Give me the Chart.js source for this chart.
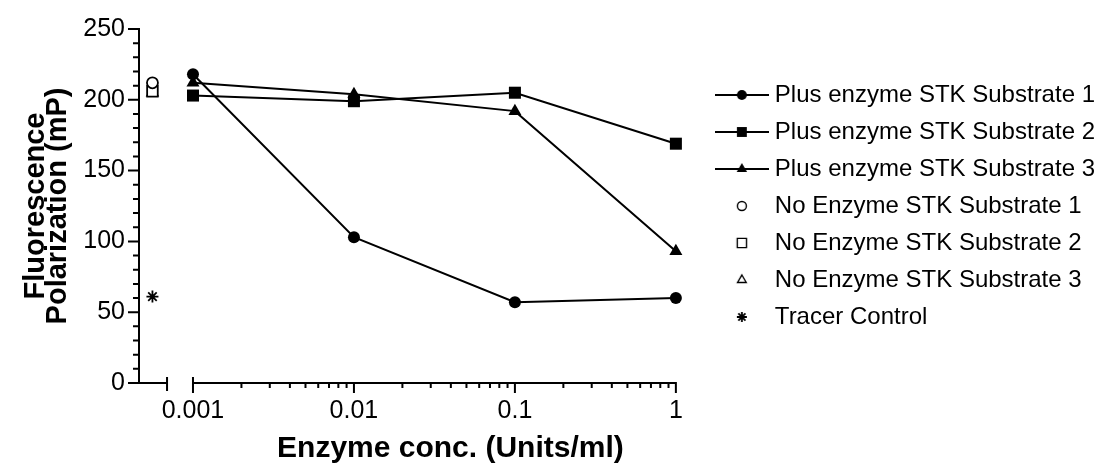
<!DOCTYPE html>
<html>
<head>
<meta charset="utf-8">
<script src="https://cdn.jsdelivr.net/npm/chart.js@4.4.1/dist/chart.umd.min.js"></script>
<style>
  html, body { margin: 0; padding: 0; background: #fff; }
</style>
</head>
<body>
<canvas id="chart" width="1108" height="469"></canvas>
<script>
// enzyme concentrations (Units/ml)
const concentrations = [0.001, 0.01, 0.1, 1];
const plusSubstrate1 = [218, 103, 57, 60];
const plusSubstrate2 = [203, 199, 205, 169];
const plusSubstrate3 = [212, 204, 192, 93];

// controls sit on the broken part of the axis, left of 0.001
const controlConc = [0.00056];
const noEnzyme1 = [212];
const noEnzyme2 = [206];
const noEnzyme3 = [205];
const tracerControl = [61];

const seriesNames = [
    'Plus enzyme STK Substrate 1',
    'Plus enzyme STK Substrate 2',
    'Plus enzyme STK Substrate 3',
    'No Enzyme STK Substrate 1',
    'No Enzyme STK Substrate 2',
    'No Enzyme STK Substrate 3',
    'Tracer Control'
];

const xTickValues = [0.001, 0.01, 0.1, 1];
const xTickLabels = ['0.001', '0.01', '0.1', '1'];
const xBreakValue = 0.00069;
const yMax = 250;
const yStep = 50;
const yMinorStep = 10;
const xTitle = 'Enzyme conc. (Units/ml)';
const yTitle = ['Fluorescence', 'Polarization (mP)'];

const FONT = '"Liberation Sans", Arial, sans-serif';

function toPoints(xs, ys) {
    return ys.map((v, i) => ({ x: xs[i], y: v }));
}

// small canvases for the legend: optional line with the marker on top
function makeSwatch(style, radius, filled, withLine) {
    const c = document.createElement('canvas');
    c.width = 54;
    c.height = 18;
    const g = c.getContext('2d');
    g.strokeStyle = '#000';
    g.fillStyle = filled ? '#000' : '#fff';
    if (withLine) {
        g.lineWidth = 1.8;
        g.beginPath();
        g.moveTo(0, 9);
        g.lineTo(54, 9);
        g.stroke();
    }
    const bw = style === 'star' ? 1.8 : (filled ? 0 : 1.4);
    g.lineWidth = bw;
    Chart.helpers.drawPoint(g, { pointStyle: style, radius: radius, borderWidth: bw }, 27, 9);
    return c;
}

const swatches = [
    makeSwatch('circle', 5, true, true),
    makeSwatch('rect', 7, true, true),
    makeSwatch('triangle', 6, true, true),
    makeSwatch('circle', 4.5, false, false),
    makeSwatch('rect', 6.5, false, false),
    makeSwatch('triangle', 5, false, false),
    makeSwatch('star', 5, true, false)
];

function lineSet(label, values, style, radius) {
    return {
        label: label,
        data: toPoints(concentrations, values),
        borderColor: '#000',
        borderWidth: 2,
        tension: 0,
        pointStyle: style,
        pointRadius: radius,
        pointBackgroundColor: '#000',
        pointBorderColor: '#000',
        pointBorderWidth: 0,
        clip: false
    };
}

function controlSet(label, values, style, radius, filled) {
    return {
        label: label,
        data: toPoints(controlConc, values),
        showLine: false,
        pointStyle: style,
        pointRadius: radius,
        pointBackgroundColor: filled ? '#000' : '#fff',
        pointBorderColor: '#000',
        pointBorderWidth: 1.8,
        clip: false
    };
}

// the legend gets more room than the layout normally allows a side box
const wideLegend = {
    id: 'wideLegend',
    beforeLayout(chart) {
        const legend = chart.legend;
        if (legend && !legend._wide) {
            const update = legend.update;
            legend.update = function (maxWidth, maxHeight, margins) {
                return update.call(this, 450, maxHeight, margins);
            };
            legend._wide = true;
        }
    }
};

// axes with the break on the x axis, drawn on the chart's own scales
const brokenAxes = {
    id: 'brokenAxes',
    beforeDatasetsDraw(chart) {
        const { ctx, scales: { x, y } } = chart;
        const left = chart.chartArea.left;
        const base = y.getPixelForValue(0);
        ctx.save();
        ctx.strokeStyle = '#000';
        ctx.lineWidth = 2;
        ctx.beginPath();
        ctx.moveTo(left, y.getPixelForValue(yMax) - 1);
        ctx.lineTo(left, base + 1);
        for (let v = 0; v <= yMax; v += yMinorStep) {
            const p = y.getPixelForValue(v);
            ctx.moveTo(left - (v % yStep === 0 ? 11 : 6), p);
            ctx.lineTo(left, p);
        }
        // stub left of the break
        const xb = x.getPixelForValue(xBreakValue);
        ctx.moveTo(left, base);
        ctx.lineTo(xb, base);
        ctx.moveTo(xb, base - 6);
        ctx.lineTo(xb, base + 8);
        // main log axis
        const x0 = x.getPixelForValue(xTickValues[0]);
        const x1 = x.getPixelForValue(xTickValues[xTickValues.length - 1]);
        ctx.moveTo(x0, base);
        ctx.lineTo(x1 + 1, base);
        ctx.moveTo(x0, base - 6);
        ctx.lineTo(x0, base);
        xTickValues.forEach((v, i) => {
            const p = x.getPixelForValue(v);
            ctx.moveTo(p, base);
            ctx.lineTo(p, base + 10);
            if (i < xTickValues.length - 1) {
                for (let m = 2; m <= 9; m++) {
                    const q = x.getPixelForValue(v * m);
                    ctx.moveTo(q, base);
                    ctx.lineTo(q, base + 5);
                }
            }
        });
        ctx.stroke();
        ctx.restore();
    },
    afterDraw(chart) {
        const { ctx, scales: { x } } = chart;
        const mid = (x.getPixelForValue(xTickValues[0]) + x.getPixelForValue(xTickValues[xTickValues.length - 1])) / 2;
        ctx.save();
        ctx.fillStyle = '#000';
        ctx.font = 'bold 30px ' + FONT;
        ctx.textAlign = 'center';
        ctx.textBaseline = 'middle';
        ctx.fillText(xTitle, mid + 16, 449);
        ctx.restore();
    }
};

const ctx = document.getElementById('chart').getContext('2d');

const chart = new Chart(ctx, {
    type: 'line',
    data: {
        datasets: [
            lineSet(seriesNames[0], plusSubstrate1, 'circle', 6),
            lineSet(seriesNames[1], plusSubstrate2, 'rect', 8.5),
            lineSet(seriesNames[2], plusSubstrate3, 'triangle', 7.5),
            controlSet(seriesNames[3], noEnzyme1, 'circle', 5.5, false),
            controlSet(seriesNames[4], noEnzyme2, 'rect', 7.5, false),
            controlSet(seriesNames[5], noEnzyme3, 'triangle', 6, false),
            controlSet(seriesNames[6], tracerControl, 'star', 6, true)
        ]
    },
    options: {
        responsive: false,
        animation: false,
        layout: { padding: { left: 25, top: 25, right: 3, bottom: 0 } },
        scales: {
            x: {
                type: 'logarithmic',
                min: 0.000462,
                max: 1.58,
                grid: { display: false, drawTicks: false },
                border: { display: false },
                afterBuildTicks: (axis) => {
                    axis.ticks = xTickValues.map(v => ({ value: v }));
                },
                afterFit: (axis) => { axis.height = 86; },
                ticks: {
                    autoSkip: false,
                    maxRotation: 0,
                    padding: 13,
                    color: '#000',
                    font: { family: FONT, size: 25 },
                    callback: (value, index) => xTickLabels[index]
                }
            },
            y: {
                min: 0,
                max: yMax,
                grid: { display: false, drawTicks: false },
                border: { display: false },
                afterFit: (axis) => { axis.width = 114; },
                ticks: {
                    stepSize: yStep,
                    padding: 14,
                    color: '#000',
                    font: { family: FONT, size: 25 }
                },
                title: {
                    display: true,
                    text: yTitle,
                    color: '#000',
                    padding: { top: 0, bottom: 0 },
                    font: { family: FONT, size: 29, weight: 'bold', lineHeight: 0.76 }
                }
            }
        },
        plugins: {
            legend: {
                position: 'right',
                align: 'center',
                fullSize: false,
                labels: {
                    usePointStyle: true,
                    pointStyleWidth: 42,
                    padding: 13,
                    color: '#000',
                    font: { family: FONT, size: 24 },
                    generateLabels: (c) => c.data.datasets.map((ds, i) => ({
                        text: ds.label,
                        pointStyle: swatches[i],
                        fillStyle: '#000',
                        strokeStyle: '#000',
                        lineWidth: 0,
                        fontColor: '#000',
                        hidden: false,
                        datasetIndex: i
                    }))
                }
            },
            tooltip: { enabled: false }
        }
    },
    plugins: [wideLegend, brokenAxes]
});
</script>
</body>
</html>
